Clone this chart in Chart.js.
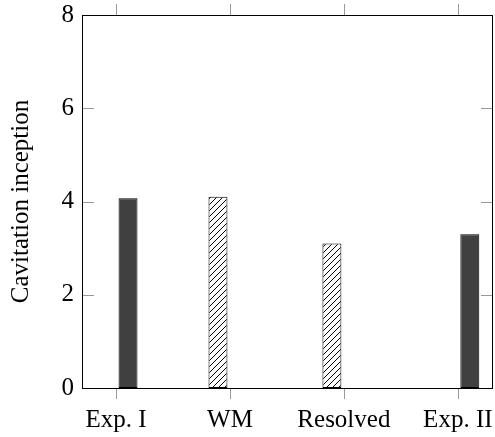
<!DOCTYPE html>
<html>
<head>
<meta charset="utf-8">
<script src="https://cdn.jsdelivr.net/npm/chart.js@4.4.0/dist/chart.umd.min.js"></script>
<style>
  body { margin: 0; background: #fff; }
  #wrap { width: 495px; height: 437px; }
</style>
</head>
<body>
<div id="wrap"><canvas id="myChart"></canvas></div>
<script>
const categories = ['Exp. I', 'WM', 'Resolved', 'Exp. II'];
const hatchedValues = [0, 4.1, 3.1, 0];
const darkValues = [4.07, 0, 0, 3.3];
const yTicks = [0, 2, 4, 6, 8];

const serif = '"Liberation Serif", "Times New Roman", serif';

// diagonal hatch like pgfplots "north east lines"
const makeHatch = () => {
  const c = document.createElement('canvas');
  c.width = 6;
  c.height = 6;
  const g = c.getContext('2d');
  g.fillStyle = '#fff';
  g.fillRect(0, 0, 6, 6);
  g.strokeStyle = '#000';
  g.lineWidth = 1;
  g.beginPath();
  g.moveTo(0, 6); g.lineTo(6, 0);
  g.moveTo(-1, 1); g.lineTo(1, -1);
  g.moveTo(5, 7); g.lineTo(7, 5);
  g.stroke();
  return g.createPattern(c, 'repeat');
};

const framePlugin = {
  id: 'frame',
  afterDraw(chart) {
    const { ctx, chartArea: a, scales } = chart;
    const tl = 11;
    ctx.save();
    ctx.strokeStyle = '#999';
    ctx.lineWidth = 1;
    ctx.beginPath();
    scales.x.ticks.forEach(t => {
      const px = Math.round(scales.x.getPixelForValue(t.value)) + 0.5;
      ctx.moveTo(px, a.top); ctx.lineTo(px, a.top - tl);
      ctx.moveTo(px, a.bottom); ctx.lineTo(px, a.bottom + tl);
    });
    scales.y.ticks.forEach(t => {
      const py = Math.round(scales.y.getPixelForValue(t.value)) + 0.5;
      ctx.moveTo(a.left, py); ctx.lineTo(a.left + tl, py);
      ctx.moveTo(a.right, py); ctx.lineTo(a.right - tl, py);
    });
    ctx.stroke();
    ctx.strokeStyle = '#000';
    ctx.strokeRect(a.left - 0.5, a.top + 0.5, a.right - a.left + 1, a.bottom - a.top);
    ctx.restore();
  }
};

// keep label overhang from shrinking the plot
const noOverhang = (scale) => {
  scale.paddingLeft = 0;
  scale.paddingRight = 0;
  scale.paddingTop = 0;
  scale.paddingBottom = 0;
};

const ctx = document.getElementById('myChart').getContext('2d');
new Chart(ctx, {
  type: 'bar',
  data: {
    datasets: [{
      label: 'Simulation',
      data: hatchedValues.map((v, i) => ({ x: i, y: v })),
      backgroundColor: makeHatch(),
      borderColor: '#000',
      borderWidth: 1,
      borderSkipped: false
    }, {
      label: 'Experiment',
      data: darkValues.map((v, i) => ({ x: i, y: v })),
      backgroundColor: '#404040',
      borderColor: '#000',
      borderWidth: 1,
      borderSkipped: false
    }]
  },
  options: {
    responsive: true,
    maintainAspectRatio: false,
    animation: false,
    categoryPercentage: 0.421,
    barPercentage: 0.79,
    layout: {
      padding: { top: 15, right: 3, left: 0, bottom: 0 }
    },
    plugins: {
      legend: { display: false },
      tooltip: { enabled: false }
    },
    scales: {
      x: {
        type: 'linear',
        min: -0.29,
        max: 3.3,
        offset: false,
        grid: { display: false, drawTicks: false, offset: false },
        border: { display: false },
        afterBuildTicks: (scale) => {
          scale.ticks = categories.map((c, i) => ({ value: i }));
        },
        afterFit: (scale) => { scale.height = 49; noOverhang(scale); },
        ticks: {
          padding: 17,
          maxRotation: 0,
          autoSkip: false,
          color: '#000',
          font: { family: serif, size: 25 },
          callback: (v) => categories[v]
        }
      },
      y: {
        min: 0,
        max: 8,
        grid: { display: false, drawTicks: false },
        border: { display: false },
        afterBuildTicks: (scale) => {
          scale.ticks = yTicks.map(v => ({ value: v }));
        },
        afterFit: (scale) => { scale.width = 83; noOverhang(scale); },
        ticks: {
          padding: 9,
          color: '#000',
          font: { family: serif, size: 25 }
        },
        title: {
          display: true,
          text: 'Cavitation inception',
          color: '#000',
          padding: { top: 6, bottom: 0 },
          font: { family: serif, size: 25, weight: 'normal' }
        }
      }
    }
  },
  plugins: [framePlugin]
});
</script>
</body>
</html>
